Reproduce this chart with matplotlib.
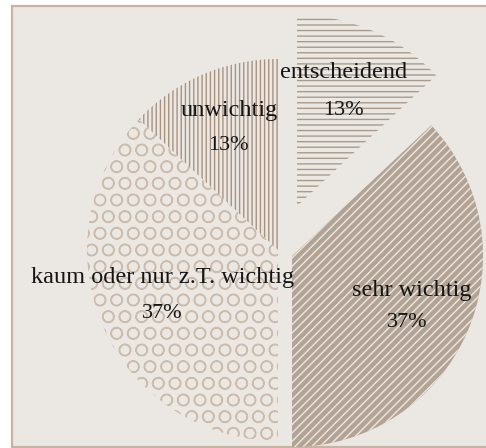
import matplotlib
matplotlib.use('Agg')
import matplotlib.pyplot as plt
from matplotlib.patches import Rectangle

# data
labels = ['entscheidend', 'sehr wichtig', 'kaum oder nur z.T. wichtig', 'unwichtig']
shares = [13, 37, 37, 13]

# styling per slice
explode = [0.25, 0.08, 0.0, 0.0]   # fraction of the radius
faces = ['#ebe8e4', '#b2a395', '#ebe8e4', '#ebe8e4']
hatch_cols = ['#a89a8c', '#ece7e1', '#cdbcab', '#a8927f']
hatches = ['---', '////', 'O', '||||']

W, H = 486, 448
R = 191
# label anchors in pixel coords (x from left, y from top)
name_pos = [(344, 72), (412, 290), (163, 277), (229, 110)]
pct_pos = [(343, 110), (407, 322), (162, 313), (228, 145)]

plt.rcParams['hatch.linewidth'] = 1.0
fig = plt.figure(figsize=(W / 100, H / 100), dpi=100)
fig.patch.set_facecolor('white')
ax = fig.add_axes([0, 0, 1, 1])

# framed panel, right edge cut off
ax.add_patch(Rectangle((12, H - 447), W, 447 - 6, facecolor='#ebe8e4',
                       edgecolor='#c8b3a3', linewidth=1.6, zorder=0))

# matplotlib's explode is in data units, so scale by the radius
wedges, _ = ax.pie(shares, explode=[e * R for e in explode], startangle=90,
                   counterclock=False, center=(278, H - 250), radius=R, frame=True)
for w, fc, hc, ht in zip(wedges, faces, hatch_cols, hatches):
    w.set_facecolor(fc)
    w.set_edgecolor(hc)
    w.set_linewidth(0)
    w.set_hatch(ht)
    w.set_zorder(1)

for lab, v, (nx, ny), (px, py) in zip(labels, shares, name_pos, pct_pos):
    ax.text(nx, H - ny, lab, ha='center', va='center', fontsize=17.5,
            family='Liberation Serif', color='#151515', zorder=3)
    ax.text(px, H - py, f'{v}%', ha='center', va='center', fontsize=16,
            family='Liberation Serif', color='#151515', zorder=3)

ax.set_xlim(0, W)
ax.set_ylim(0, H)
ax.set_aspect('auto')
ax.axis('off')

fig.savefig('out.png', dpi=100)
